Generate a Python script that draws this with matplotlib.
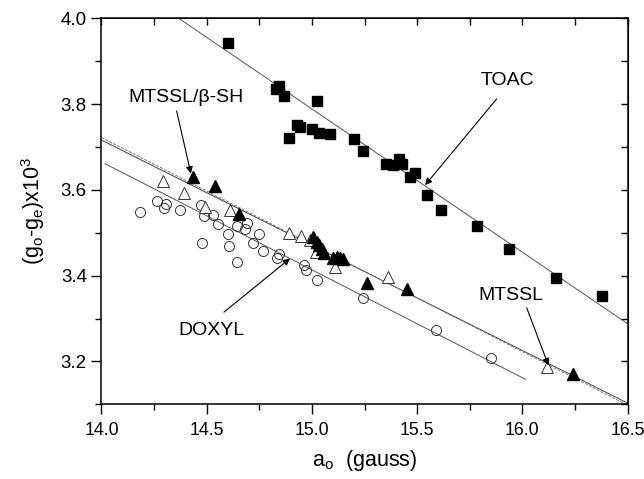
import numpy as np
import matplotlib
matplotlib.use("Agg")
import matplotlib.pyplot as plt
from matplotlib.ticker import MultipleLocator, NullFormatter

plt.rcParams['font.family'] = ['Liberation Sans', 'DejaVu Sans']
plt.rcParams['mathtext.fontset'] = 'custom'
plt.rcParams['mathtext.rm'] = 'Liberation Sans'
plt.rcParams['mathtext.it'] = 'Liberation Sans'

# TOAC (filled squares)
toac_a = [14.601, 14.829, 14.842, 14.867, 14.891, 14.929, 14.943, 14.999, 15.024,
          15.034, 15.086, 15.200, 15.241, 15.352, 15.387, 15.415, 15.427, 15.466,
          15.490, 15.548, 15.615, 15.783, 15.938, 16.160, 16.377]
toac_g = [3.942, 3.835, 3.842, 3.819, 3.721, 3.752, 3.746, 3.742, 3.808,
          3.732, 3.730, 3.718, 3.691, 3.660, 3.658, 3.673, 3.660, 3.630,
          3.640, 3.588, 3.554, 3.515, 3.462, 3.395, 3.352]

# MTSSL/beta-SH (filled triangles)
msh_a = [14.433, 14.538, 14.652, 15.007, 15.023, 15.035, 15.047, 15.059, 15.099,
         15.118, 15.134, 15.146, 15.260, 15.451, 16.242]
msh_g = [3.630, 3.610, 3.543, 3.489, 3.479, 3.471, 3.461, 3.453, 3.441,
         3.444, 3.441, 3.438, 3.383, 3.368, 3.171]

# MTSSL (open triangles)
mtssl_a = [14.291, 14.391, 14.490, 14.611, 14.891, 14.946, 14.989, 15.020,
           15.112, 15.363, 16.119]
mtssl_g = [3.621, 3.593, 3.561, 3.553, 3.500, 3.493, 3.483, 3.454,
           3.421, 3.396, 3.187]

# DOXYL (open circles)
doxyl_a = [14.183, 14.265, 14.298, 14.305, 14.373, 14.471, 14.489, 14.531, 14.555,
           14.476, 14.603, 14.607, 14.645, 14.643, 14.682, 14.690, 14.722, 14.750,
           14.769, 14.833, 14.844, 14.964, 14.971, 15.026, 15.241, 15.588, 15.850]
doxyl_g = [3.549, 3.574, 3.557, 3.568, 3.553, 3.564, 3.539, 3.541, 3.520,
           3.477, 3.497, 3.469, 3.431, 3.515, 3.508, 3.522, 3.475, 3.497,
           3.457, 3.442, 3.450, 3.424, 3.413, 3.389, 3.347, 3.274, 3.207]

# linear fits: (slope, intercept, a_start, a_end)
toac_fit = (-0.3338, 8.7957, 14.0, 16.5)
doxyl_fit = (-0.2516, 7.1877, 14.017, 16.016)
msh_fit = (-0.2452, 7.1488, 14.0, 16.5)
mtssl_fit = (-0.2495, 7.2150, 14.0, 16.5)

fig = plt.figure(figsize=(6.44, 4.79), dpi=100)
ax = fig.add_axes([0.1576, 0.1559, 0.8168, 0.8059])

def fit_line(fit, **kw):
    slope, icpt, a0, a1 = fit
    a = np.array([a0, a1])
    ax.plot(a, slope * a + icpt, **kw)

fit_line(toac_fit, color="#555555", lw=0.7, zorder=1)
fit_line(doxyl_fit, color="#555555", lw=0.7, zorder=1)
fit_line(msh_fit, color="#444444", lw=0.7, zorder=1)
fit_line(mtssl_fit, color="#777777", lw=0.7, ls=(0, (3, 1.5)), zorder=1)

ax.plot(toac_a, toac_g, "s", ms=7.5, color="black", zorder=3)
ax.plot(doxyl_a, doxyl_g, "o", ms=7.2, mfc="none", mec="#333333", mew=0.7, zorder=2)
ax.plot(mtssl_a, mtssl_g, "^", ms=8.5, mfc="white", mec="#333333", mew=0.7, zorder=2)
ax.plot(msh_a, msh_g, "^", ms=8.5, color="black", zorder=3)

# labels with arrows
arrow = dict(arrowstyle="-|>", color="black", lw=0.8, mutation_scale=10,
             shrinkA=0, shrinkB=0)
ax.text(15.927, 3.856, "TOAC", fontsize=14, ha="center", va="center")
ax.annotate("", xy=(15.538, 3.611), xytext=(15.878, 3.812), arrowprops=arrow)
ax.text(14.402, 3.815, "MTSSL/β-SH", fontsize=14, ha="center", va="center")
ax.annotate("", xy=(14.425, 3.638), xytext=(14.357, 3.784), arrowprops=arrow)
ax.text(14.524, 3.273, "DOXYL", fontsize=14, ha="center", va="center")
ax.annotate("", xy=(14.896, 3.440), xytext=(14.582, 3.315), arrowprops=arrow)
ax.text(15.946, 3.354, "MTSSL", fontsize=14, ha="center", va="center")
ax.annotate("", xy=(16.124, 3.191), xytext=(16.021, 3.325), arrowprops=arrow)

ax.set_xlim(14.0, 16.5)
ax.set_ylim(3.1, 4.0)
ax.xaxis.set_major_locator(MultipleLocator(0.5))
ax.xaxis.set_minor_locator(MultipleLocator(0.25))
ax.yaxis.set_major_locator(MultipleLocator(0.2))
ax.yaxis.set_minor_locator(MultipleLocator(0.1))
ax.xaxis.set_major_formatter(plt.FormatStrFormatter("%.1f"))
ax.yaxis.set_major_formatter(plt.FormatStrFormatter("%.1f"))
ax.tick_params(which="major", direction="out", length=7, width=1, labelsize=13.5)
ax.tick_params(which="minor", direction="out", length=4, width=1)
ax.tick_params(axis="x", which="major", pad=6, labelsize=12.8)
for s in ax.spines.values():
    s.set_linewidth(1.1)

# mirrored inward ticks on top and right
top = ax.secondary_xaxis("top")
top.xaxis.set_major_locator(MultipleLocator(0.25))
top.xaxis.set_major_formatter(NullFormatter())
top.tick_params(direction="in", length=5, width=1)
right = ax.secondary_yaxis("right")
right.yaxis.set_major_locator(MultipleLocator(0.1))
right.yaxis.set_major_formatter(NullFormatter())
right.tick_params(direction="in", length=5, width=1)

ax.set_xlabel("a$_\\mathregular{o}$  (gauss)", fontsize=15.5, labelpad=6)
ax.set_ylabel("(g$_\\mathregular{o}$-g$_\\mathregular{e}$)x10$^\\mathregular{3}$",
              fontsize=15.5, labelpad=10)

fig.savefig("out.png", dpi=100)
